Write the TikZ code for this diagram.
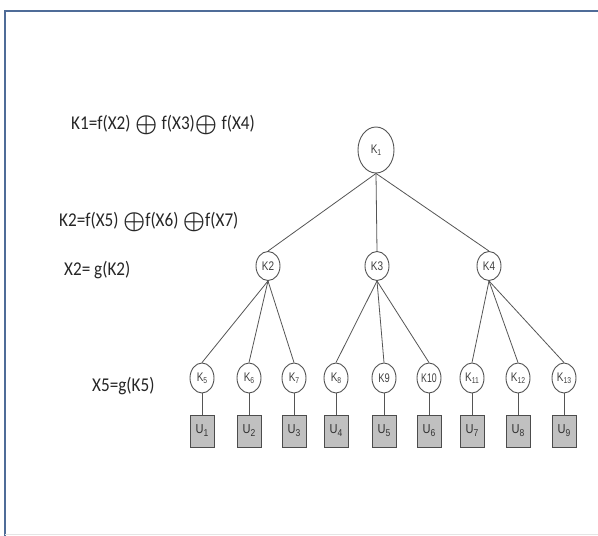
\documentclass[tikz,border=0pt]{standalone}
\usepackage{fontspec}
\setmainfont{Carlito}
\newfontfamily\nodefont{Liberation Sans}
\usetikzlibrary{shapes.geometric}
\definecolor{framecol}{HTML}{4F6C98}
\definecolor{edgecol}{HTML}{555555}
\definecolor{boxfill}{HTML}{C0C0C0}
\tikzset{
  knode/.style={ellipse, draw=edgecol, line width=0.9pt, fill=white, inner sep=0pt,
    minimum width=24pt, minimum height=30pt, font=\nodefont\fontsize{12.5}{12.5}\selectfont, text=black!75},
  topnode/.style={knode, minimum width=36pt, minimum height=46pt},
  ubox/.style={rectangle, draw=black!70, line width=0.9pt, fill=boxfill, inner sep=0pt,
    minimum width=24pt, minimum height=32pt, font=\nodefont\fontsize{13}{13}\selectfont, text=black!80},
  link/.style={draw=edgecol, line width=0.8pt},
  eq/.style={anchor=west, inner sep=0pt, font=\fontsize{19.5}{19.5}\selectfont, text=black!85}
}
\newcommand{\kl}[2]{\scalebox{0.8}[1]{#1\raisebox{-2.5pt}{\fontsize{8.5}{8.5}\selectfont #2}}}
\newcommand{\ul}[2]{\scalebox{0.85}[1]{#1\raisebox{-3pt}{\fontsize{10}{10}\selectfont #2}}}
\newcommand{\op}{\raisebox{-1.5pt}{\fontsize{26}{26}\selectfont\boldmath$\oplus$}}
\newcommand{\sq}[1]{\scalebox{0.88}[1]{#1}}
\begin{document}
\begin{tikzpicture}[x=1pt,y=-1pt]
\useasboundingbox (0,0) rectangle (598,536);
\fill[white] (0,0) rectangle (598,536);
% frame
\draw[framecol, line width=2.4pt] (5,536) -- (5,11) -- (598,11);
\draw[black!10, line width=1pt] (5,534) -- (598,534);

% equations
\node[eq] (e1) at (71,125) {\sq{K1=f(X2)} \op{} \sq{f(X3)}\op{} \sq{f(X4)}};
\node[eq] (e2) at (59,222) {\sq{K2=f(X5)} \op\sq{f(X6)} \op\sq{f(X7)}};
\node[eq] (e3) at (64,270) {\sq{X2= g(K2)}};
\node[eq] (e4) at (92,386) {\sq{X5=g(K5)}};

% tree
\node[topnode] (k1) at (376,150) {\kl{K}{1}};
\node[knode, minimum height=29pt] (k2) at (268,266) {\scalebox{0.8}[1]{K2}};
\node[knode, minimum height=29pt] (k3) at (377,266) {\scalebox{0.8}[1]{K3}};
\node[knode, minimum height=29pt] (k4) at (489,266) {\scalebox{0.8}[1]{K4}};

\node[knode] (k5) at (202,378) {\kl{K}{5}};
\node[knode] (k6) at (249,378) {\kl{K}{6}};
\node[knode] (k7) at (294,378) {\kl{K}{7}};
\node[knode] (k8) at (336,378) {\kl{K}{8}};
\node[knode] (k9) at (384,378) {\scalebox{0.75}[1]{K9}};
\node[knode] (k10) at (429,378) {\scalebox{0.7}[1]{K10}};
\node[knode] (k11) at (472,378) {\kl{K}{11}};
\node[knode] (k12) at (518,378) {\kl{K}{12}};
\node[knode] (k13) at (564,378) {\kl{K}{13}};

\foreach \i/\x in {1/202,2/249,3/294,4/336,5/384,6/429,7/472,8/518,9/564}
  \node[ubox] (u\i) at (\x,431) {\ul{U}{\i}};

\foreach \c in {k2,k3,k4} \draw[link] (k1.south) -- (\c.north);
\foreach \c in {k5,k6,k7} \draw[link] (k2.south) -- (\c.north);
\foreach \c in {k8,k9,k10} \draw[link] (k3.south) -- (\c.north);
\foreach \c in {k11,k12,k13} \draw[link] (k4.south) -- (\c.north);
\foreach \k/\u in {k5/u1,k6/u2,k7/u3,k8/u4,k9/u5,k10/u6,k11/u7,k12/u8,k13/u9}
  \draw[link] (\k.south) -- (\u.north);
\end{tikzpicture}
\end{document}
